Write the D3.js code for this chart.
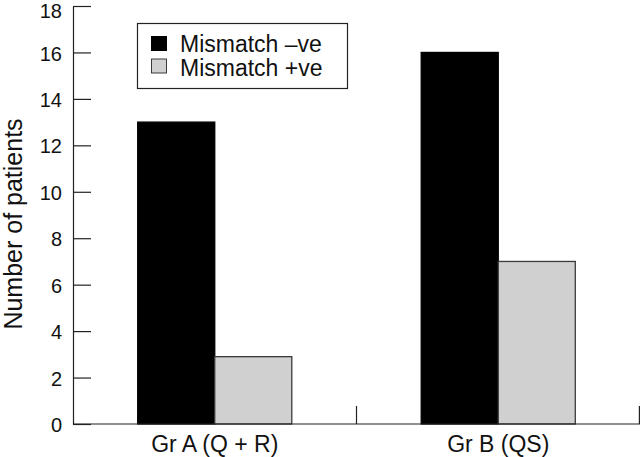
<!DOCTYPE html>
<html>
<head>
<meta charset="utf-8">
<script src="https://cdn.jsdelivr.net/npm/d3@7"></script>
<style>
  html, body { margin: 0; padding: 0; background: #fff; }
  svg { display: block; font-family: "Liberation Sans", Arial, Helvetica, sans-serif; }
</style>
</head>
<body>
<script>
const groups = ["Gr A (Q + R)", "Gr B (QS)"];
const seriesNames = ["Mismatch \u2013ve", "Mismatch +ve"];
const mismatchNeg = [13, 16];
const mismatchPos = [2.9, 7];
const yTicks = [0, 2, 4, 6, 8, 10, 12, 14, 16, 18];
const seriesColors = ["#000000", "#d0d0d0"];
const seriesStrokes = ["#000000", "#3a3a3a"];

const W = 640, H = 457;
const margin = { left: 73, right: 0, top: 6, bottom: 33 };

const svg = d3.select("body").append("svg").attr("width", W).attr("height", H);

const y = d3.scaleLinear().domain([0, 18]).range([H - margin.bottom, margin.top]);
const x0 = d3.scaleBand().domain(groups).range([margin.left, W - margin.right]).padding(0);
const x1 = d3.scaleBand().domain(seriesNames).range([0, x0.bandwidth()]).paddingInner(0).paddingOuter(0.84);

const data = groups.map((g, i) => ({ group: g, values: [mismatchNeg[i], mismatchPos[i]] }));

// bars
const gGroups = svg.selectAll("g.grp").data(data).enter().append("g")
  .attr("class", "grp")
  .attr("transform", d => `translate(${x0(d.group)},0)`);

gGroups.selectAll("rect").data(d => d.values.map((v, j) => ({ s: seriesNames[j], v, j })))
  .enter().append("rect")
  .attr("x", d => x1(d.s))
  .attr("y", d => y(d.v))
  .attr("width", x1.bandwidth())
  .attr("height", d => y(0) - y(d.v))
  .attr("fill", d => seriesColors[d.j])
  .attr("stroke", d => seriesStrokes[d.j])
  .attr("stroke-width", 1.3);

// y axis
const yAxis = d3.axisLeft(y).tickValues(yTicks).tickSizeInner(-18).tickSizeOuter(0).tickPadding(11);
const gy = svg.append("g").attr("transform", `translate(${margin.left},0)`).call(yAxis);
gy.selectAll("path, line").attr("stroke", "#222").attr("stroke-width", 1.2);
gy.selectAll("text")
  .attr("font-size", 20).attr("fill", "#111")
  .attr("font-family", "Liberation Sans, Arial, sans-serif")
  .attr("dy", d => d === 18 ? "0.55em" : "0.38em");

// x axis baseline and group boundary ticks
const xg = svg.append("g");
xg.append("line")
  .attr("x1", margin.left).attr("x2", W - margin.right)
  .attr("y1", y(0)).attr("y2", y(0))
  .attr("stroke", "#222").attr("stroke-width", 1.2);
const bounds = groups.map(g => x0(g)).concat([x0(groups[groups.length - 1]) + x0.bandwidth() - 0.6]);
xg.selectAll("line.bt").data(bounds.slice(1)).enter().append("line")
  .attr("class", "bt")
  .attr("x1", d => d).attr("x2", d => d)
  .attr("y1", y(0)).attr("y2", y(0) - 18)
  .attr("stroke", "#222").attr("stroke-width", 1.2);
xg.selectAll("text").data(groups).enter().append("text")
  .attr("x", d => x0(d) + x0.bandwidth() / 2)
  .attr("y", 452)
  .attr("text-anchor", "middle")
  .attr("font-size", 23)
  .attr("fill", "#111")
  .text(d => d);

// y title
svg.append("text")
  .attr("transform", `translate(22,${(y(0) + y(18)) / 2 + 9}) rotate(-90)`)
  .attr("text-anchor", "middle")
  .attr("font-size", 25)
  .attr("fill", "#111")
  .text("Number of patients");

// legend
const lg = svg.append("g");
lg.append("rect")
  .attr("x", 137.5).attr("y", 23.5).attr("width", 210).attr("height", 65)
  .attr("fill", "#fff").attr("stroke", "#222").attr("stroke-width", 1.2);
seriesNames.forEach((s, i) => {
  lg.append("rect")
    .attr("x", 151.5).attr("y", 36.5 + i * 22.5).attr("width", 15).attr("height", 14)
    .attr("fill", seriesColors[i]).attr("stroke", seriesStrokes[i]).attr("stroke-width", 1);
  lg.append("text")
    .attr("x", 180).attr("y", 52 + i * 24)
    .attr("font-size", 23).attr("fill", "#111")
    .text(s);
});
</script>
</body>
</html>
